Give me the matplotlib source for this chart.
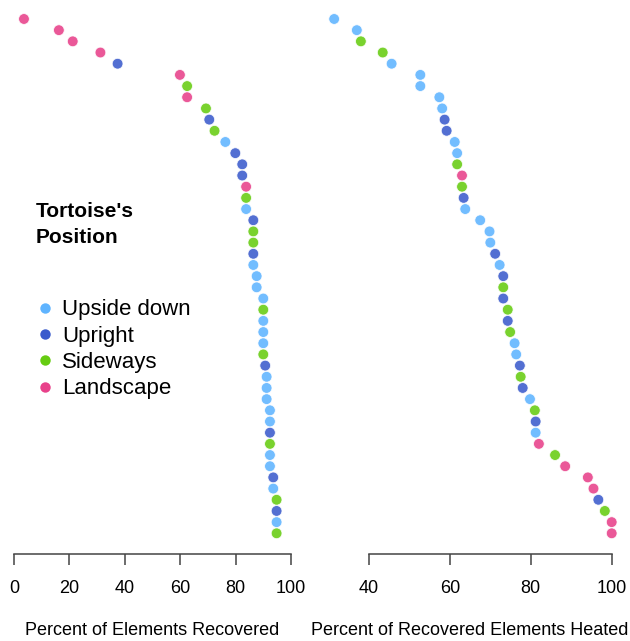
import numpy as np
import matplotlib.pyplot as plt
from matplotlib.lines import Line2D

plt.rcParams['font.family'] = ['Liberation Sans', 'DejaVu Sans']

positions = ['Upside down', 'Upright', 'Sideways', 'Landscape']
colors = {'Upside down': '#5fb4ff', 'Upright': '#3b5bcc',
          'Sideways': '#66cc11', 'Landscape': '#e8418a'}

# percent of elements recovered, sorted ascending (top to bottom)
recovered = [3.6, 16.2, 21.2, 31.2, 37.4, 59.9, 62.5, 62.5, 69.3, 70.5,
             72.4, 76.3, 79.9, 82.4, 82.4, 83.8, 83.8, 83.8, 86.4, 86.4,
             86.4, 86.4, 86.4, 87.6, 87.6, 90.0, 90.0, 90.0, 90.0, 90.0,
             90.0, 90.7, 91.2, 91.2, 91.2, 92.4, 92.4, 92.4, 92.4, 92.4,
             92.4, 93.6, 93.6, 94.8, 94.8, 94.8, 94.8]
recovered_pos = ['Landscape', 'Landscape', 'Landscape', 'Landscape', 'Upright',
                 'Landscape', 'Sideways', 'Landscape', 'Sideways', 'Upright',
                 'Sideways', 'Upside down', 'Upright', 'Upright', 'Upright',
                 'Landscape', 'Sideways', 'Upside down', 'Upright', 'Sideways',
                 'Sideways', 'Upright', 'Upside down', 'Upside down', 'Upside down',
                 'Upside down', 'Sideways', 'Upside down', 'Upside down', 'Upside down',
                 'Sideways', 'Upright', 'Upside down', 'Upside down', 'Upside down',
                 'Upside down', 'Upside down', 'Upright', 'Sideways', 'Upside down',
                 'Upside down', 'Upright', 'Upside down', 'Sideways', 'Upright',
                 'Upside down', 'Sideways']

# percent of recovered elements heated, sorted ascending
heated = [31.4, 37.0, 38.0, 43.4, 45.6, 52.7, 52.7, 57.4, 58.1, 58.7,
          59.2, 61.2, 61.8, 61.8, 63.0, 63.0, 63.4, 63.8, 67.5, 69.8,
          70.0, 71.2, 72.3, 73.2, 73.2, 73.2, 74.3, 74.3, 74.9, 76.0,
          76.4, 77.3, 77.5, 78.0, 79.8, 81.0, 81.2, 81.2, 82.0, 86.0,
          88.5, 94.1, 95.5, 96.7, 98.3, 100.0, 100.0]
heated_pos = ['Upside down', 'Upside down', 'Sideways', 'Sideways', 'Upside down',
              'Upside down', 'Upside down', 'Upside down', 'Upside down', 'Upright',
              'Upright', 'Upside down', 'Upside down', 'Sideways', 'Landscape',
              'Sideways', 'Upright', 'Upside down', 'Upside down', 'Upside down',
              'Upside down', 'Upright', 'Upside down', 'Upright', 'Sideways',
              'Upright', 'Sideways', 'Upright', 'Sideways', 'Upside down',
              'Upside down', 'Upright', 'Sideways', 'Upright', 'Upside down',
              'Sideways', 'Upright', 'Upside down', 'Landscape', 'Sideways',
              'Landscape', 'Landscape', 'Landscape', 'Upright', 'Sideways',
              'Landscape', 'Landscape']

W, H = 630, 641
fig = plt.figure(figsize=(W / 100, H / 100), dpi=100)

rows = np.arange(1, len(recovered) + 1)
ybot, ytop = 554, 7.8
ax_h = (ybot - ytop) / H
ax1 = fig.add_axes([14 / W, (H - ybot) / H, 277 / W, ax_h])
ax2 = fig.add_axes([328.5 / W, (H - ybot) / H, 283.2 / W, ax_h])


def dotplot(ax, vals, pos, xlim, bounds, ticks, label):
    cols = [colors[p] for p in pos]
    ax.scatter(vals, rows, s=60, c=cols, alpha=0.88, edgecolors='white',
               linewidths=0.6, clip_on=False, zorder=3)
    ax.set_xlim(*xlim)
    ax.set_ylim(48.85, 0)
    for s in ['top', 'right', 'left']:
        ax.spines[s].set_visible(False)
    ax.spines['bottom'].set_bounds(*bounds)
    ax.spines['bottom'].set_color('#444444')
    ax.spines['bottom'].set_linewidth(1.1)
    ax.set_yticks([])
    ax.set_xticks(ticks)
    ax.tick_params(axis='x', length=8, width=1.1, color='#444444',
                   labelsize=13, pad=11)
    ax.set_xlabel(label, fontsize=13, labelpad=18)
    ax.patch.set_alpha(0)


dotplot(ax1, recovered, recovered_pos, (0, 100), (0, 100),
        [0, 20, 40, 60, 80, 100], 'Percent of Elements Recovered')
dotplot(ax2, heated, heated_pos, (30, 100), (40, 100),
        [40, 60, 80, 100], 'Percent of Recovered Elements Heated')

fig.text(36 / W, 1 - 224.5 / H, "Tortoise's\nPosition", fontsize=15,
         fontweight='bold', va='center', ha='left', linespacing=1.5)

handles = [Line2D([], [], marker='o', ls='', ms=7.5, mfc=colors[p], mec='none')
           for p in positions]
fig.legend(handles, positions, loc='upper left', frameon=False,
           bbox_to_anchor=(31 / W, 1 - 295 / H), fontsize=16,
           handlelength=0.9, handletextpad=0.3, labelspacing=0.24,
           borderaxespad=0, borderpad=0.2)

fig.savefig('out.png', dpi=100)
